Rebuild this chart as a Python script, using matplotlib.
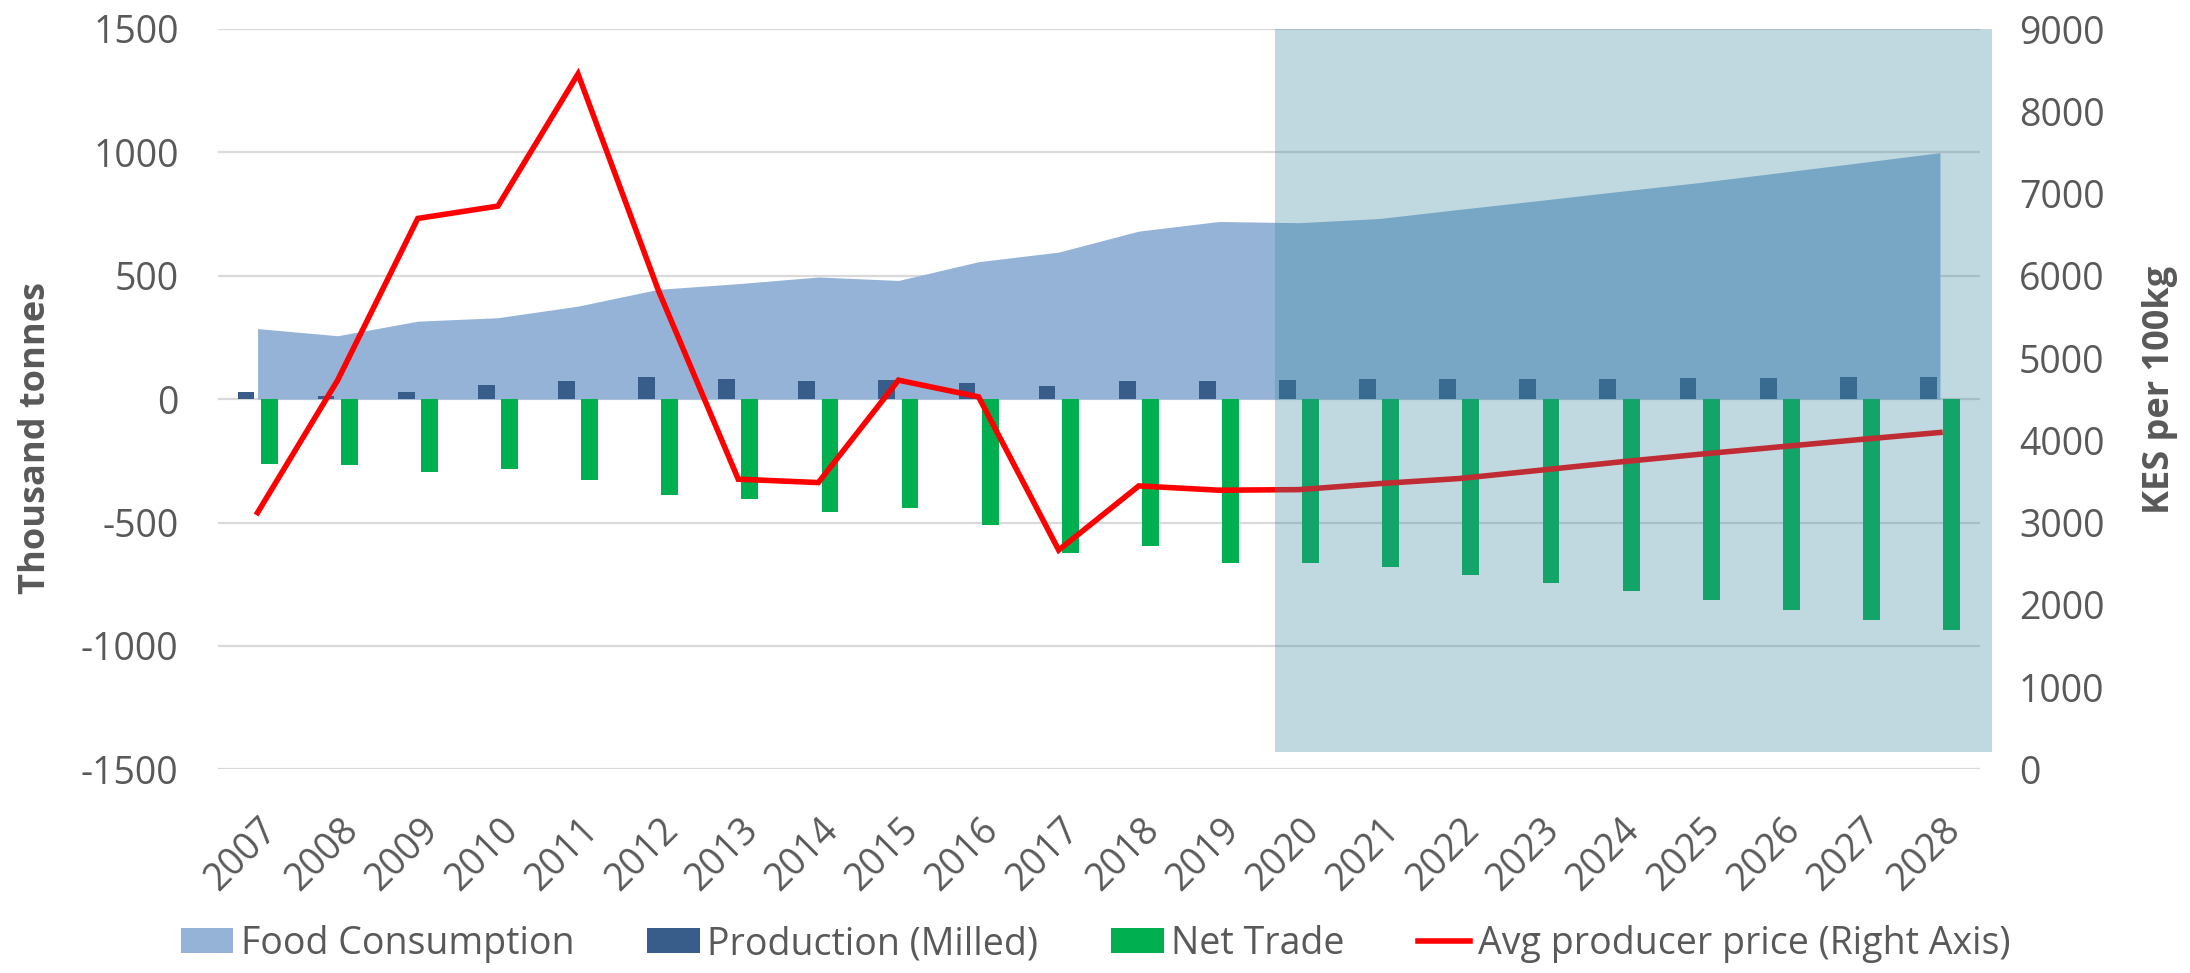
import numpy as np
import matplotlib
matplotlib.use("Agg")
import matplotlib.pyplot as plt
from matplotlib.patches import Rectangle
from matplotlib.transforms import ScaledTranslation, blended_transform_factory

years = [str(y) for y in range(2007, 2029)]
food_consumption = [286, 257, 316, 330, 377, 445, 468, 495, 481, 557, 596,
                    681, 720, 715, 732, 769, 805, 842, 878, 918, 958, 999]
production_milled = [30, 12, 27, 57, 73, 90, 82, 73, 77, 66, 53,
                     73, 73, 77, 80, 81, 81, 82, 85, 86, 88, 89]
net_trade = [-261, -265, -295, -282, -327, -389, -404, -459, -443, -509, -622,
             -595, -662, -663, -682, -713, -745, -779, -814, -853, -895, -937]
avg_price = [3120, 4731, 6697, 6847, 8453, 5830, 3527, 3486, 4731, 4528, 2665,
             3445, 3393, 3400, 3473, 3535, 3635, 3736, 3830, 3920, 4009, 4095]

plt.rcParams['font.family'] = ['Open Sans', 'DejaVu Sans']
plt.rcParams['axes.unicode_minus'] = False
GREY = '#595959'
TICK_FS = 27

fig = plt.figure(figsize=(21.9, 9.73), dpi=100)
ax = fig.add_axes([217.5/2190, 1-769.3/973, (1980-217.5)/2190, (769.3-29)/973])
ax2 = ax.twinx()

x = np.arange(len(years))
ax.fill_between(x, 0, food_consumption, color='#95b3d7', lw=0, zorder=1,
                label='Food Consumption')
ax.bar(x - 0.145, production_milled, width=0.21, color='#385d8a', zorder=2,
       label='Production (Milled)')
ax.bar(x + 0.145, net_trade, width=0.21, color='#00b050', zorder=2,
       label='Net Trade')
ln, = ax2.plot(x, avg_price, color='#ff0000', lw=4.0, zorder=2,
               solid_joinstyle='miter', label='Avg producer price (Right Axis)')

ax.set_xlim(-0.5, len(years) - 0.5)
ax.set_ylim(-1500, 1500)
ax2.set_ylim(0, 9000)
ax.set_yticks(np.arange(-1500, 1501, 500))
ax2.set_yticks(np.arange(0, 9001, 1000))
ax.yaxis.grid(True, color='#d9d9d9', lw=1.6)
ax.set_axisbelow(True)

for a in (ax, ax2):
    for s in a.spines.values():
        s.set_visible(False)
    a.tick_params(length=0, labelsize=TICK_FS, labelcolor=GREY)
ax.tick_params(axis='y', pad=28)
ax2.tick_params(axis='y', pad=28)

# category labels (rotated)
ax.set_xticks(x)
ax.set_xticklabels([])
tr = blended_transform_factory(ax.transData, ax.transAxes) + \
    ScaledTranslation(0.01, -0.42, fig.dpi_scale_trans)
for xi, yr in zip(x, years):
    ax.text(xi, 0, yr, transform=tr, rotation=45, ha='right', va='top',
            rotation_mode='anchor', fontsize=TICK_FS, color=GREY, clip_on=False)

# projection shading
shade = Rectangle((12.7, 210), 21.65 - 12.7, 9000 - 210,
                  transform=ax2.transData, facecolor=(61/255, 139/255, 161/255),
                  alpha=0.32, lw=0, zorder=10, clip_on=False)
ax2.add_patch(shade)

fig.text(36/2190, 1-438/973, 'Thousand tonnes', rotation=90, ha='center',
         va='center', fontsize=26, fontweight='bold', color=GREY)
fig.text(2160/2190, 1-390/973, 'KES per 100kg', rotation=90, ha='center',
         va='center', fontsize=26, fontweight='bold', color=GREY)

h1, l1 = ax.get_legend_handles_labels()
leg = fig.legend(h1 + [ln], l1 + [ln.get_label()], loc='center',
                 bbox_to_anchor=(0.5002, 1-944/973), ncol=4, frameon=False,
                 fontsize=27, handlelength=1.4, handleheight=0.64,
                 handletextpad=0.2, columnspacing=1.95, borderpad=0)
for t in leg.get_texts():
    t.set_color(GREY)

fig.savefig('out.png', dpi=100)
